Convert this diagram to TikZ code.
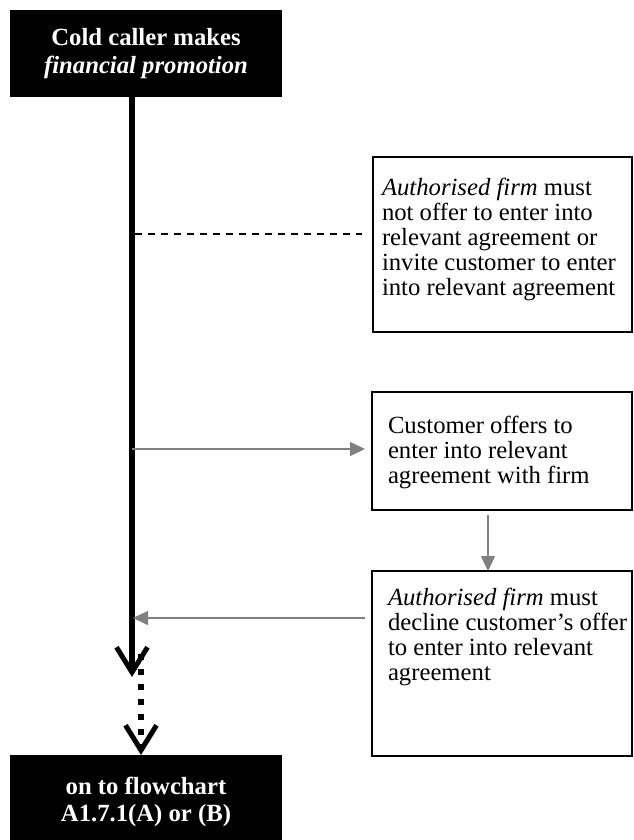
\documentclass[tikz,border=0pt]{standalone}
\usepackage{fontspec}
\setmainfont{Liberation Serif}
\usetikzlibrary{arrows.meta}
\definecolor{linkgray}{RGB}{128,128,128}
\begin{document}
\begin{tikzpicture}[x=1pt,y=-1pt,
  blackbox/.style={fill=black,text=white,draw=none,inner sep=0pt,outer sep=0pt,
    align=center,minimum width=272pt,font=\fontsize{24.7}{27.5}\selectfont\bfseries},
  frame/.style={draw=black,line width=2pt,inner sep=0pt,outer sep=0pt,anchor=north west},
  boxtext/.style={anchor=north west,inner sep=0pt,outer sep=0pt,align=left,
    font=\fontsize{24.7}{25}\selectfont},
  spineline/.style={line width=6pt,-{Straight Barb[length=25pt,width=31pt,line width=5pt]}},
  dotline/.style={line width=6pt,dash pattern=on 6pt off 9pt,
    -{Straight Barb[length=25pt,width=31pt,line width=5pt]}},
  flow/.style={draw=linkgray,line width=1.5pt,-{Triangle[length=15pt,width=14pt]}},
  ruleline/.style={line width=1.5pt,dash pattern=on 7pt off 6pt}
]
\useasboundingbox (0,0) rectangle (634,840);

% start and end boxes
\node[blackbox,minimum height=87pt] (start) at (146,53.5)
  {Cold caller makes\\\textit{financial promotion}};
\node[blackbox,minimum height=94pt] (finish) at (146,802)
  {on to flowchart\\A1.7.1(A) or (B)};

% side boxes (frames) and their texts
\node[frame,minimum width=259pt,minimum height=175pt] (rule) at (373,157) {};
\node[frame,minimum width=260pt,minimum height=118pt] (offer) at (372,392) {};
\node[frame,minimum width=260pt,minimum height=185pt] (decline) at (372,571) {};

\node[boxtext] (ruletext) at (382,178)
  {\textit{Authorised firm} must\\not offer to enter into\\relevant agreement or\\invite customer to enter\\into relevant agreement};
\node[boxtext] (offertext) at (388,416)
  {Customer offers to\\enter into relevant\\agreement with firm};
\node[boxtext] (declinetext) at (388,588)
  {\textit{Authorised firm} must\\decline customer's offer\\to enter into relevant\\agreement};

% points on the main line
\coordinate (spineend) at (132,677);
\coordinate (dotstart) at (141,654);
\coordinate (ruleat) at (135,234);
\coordinate (offerat) at (132,449);
\coordinate (declineat) at (133,618);
\coordinate (downx) at (488,0);

% main line and dotted continuation
\draw[spineline] (start.south -| spineend) -- (spineend);
\draw[dotline] (dotstart) -- (finish.north -| dotstart);

% dashed rule to the first box
\draw[ruleline,shorten >=11pt] (ruleat) -- (ruleat -| rule.west);

% grey flow arrows
\draw[flow,shorten >=7pt] (offerat) -- (offerat -| offer.west);
\draw[flow,shorten <=5pt] (offer.south -| downx) -- (decline.north -| downx);
\draw[flow,shorten <=7pt] (declineat -| decline.west) -- (declineat);
\end{tikzpicture}
\end{document}
